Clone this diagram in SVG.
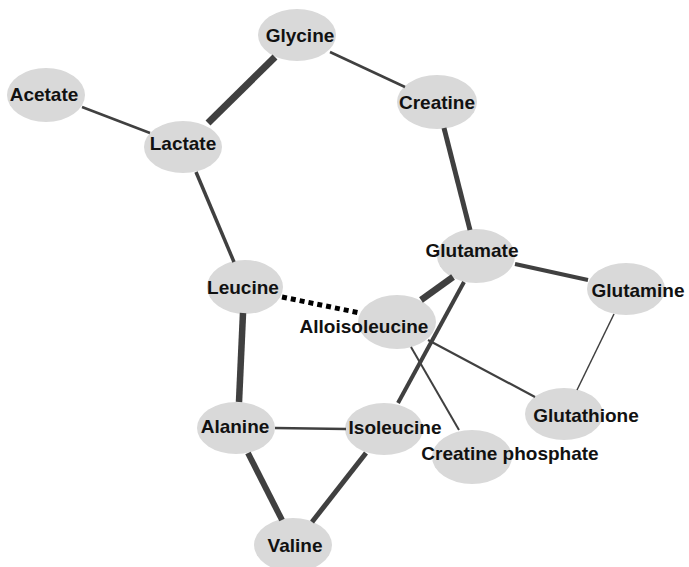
<svg xmlns="http://www.w3.org/2000/svg" width="689" height="567" viewBox="0 0 689 567">
<style>
.node ellipse{fill:#d9d9d9;stroke:none}
.node text{font-family:"Liberation Sans",Arial,sans-serif;font-weight:bold;font-size:19px;fill:#111;text-anchor:middle}
.edge{stroke:#404040;stroke-linecap:butt;fill:none}
.dot{stroke:#000;stroke-width:5;stroke-dasharray:5 4;fill:none}
</style>
<rect width="689" height="567" fill="#fff"/>
<g id="nodes">
<g id="glycine" class="node"><ellipse cx="297" cy="35" rx="39" ry="26"/><text x="300" y="42">Glycine</text></g>
<g id="acetate" class="node"><ellipse cx="46" cy="95" rx="39" ry="27"/><text x="44" y="101">Acetate</text></g>
<g id="lactate" class="node"><ellipse cx="183" cy="147" rx="39" ry="26"/><text x="183" y="150">Lactate</text></g>
<g id="creatine" class="node"><ellipse cx="437" cy="102" rx="40" ry="27"/><text x="437" y="109">Creatine</text></g>
<g id="glutamate" class="node"><ellipse cx="476" cy="256" rx="39" ry="27"/><text x="472" y="257">Glutamate</text></g>
<g id="glutamine" class="node"><ellipse cx="626" cy="289" rx="39" ry="26"/><text x="638" y="297">Glutamine</text></g>
<g id="leucine" class="node"><ellipse cx="245" cy="287" rx="38" ry="27"/><text x="243" y="294">Leucine</text></g>
<g id="alloisoleucine" class="node"><ellipse cx="397" cy="322" rx="39" ry="27"/><text x="364" y="333">Alloisoleucine</text></g>
<g id="glutathione" class="node"><ellipse cx="564" cy="414" rx="39" ry="26"/><text x="586" y="422">Glutathione</text></g>
<g id="alanine" class="node"><ellipse cx="236" cy="428" rx="39" ry="26"/><text x="235" y="433">Alanine</text></g>
<g id="isoleucine" class="node"><ellipse cx="384" cy="429" rx="39" ry="26"/><text x="395" y="434">Isoleucine</text></g>
<g id="creatine-phosphate" class="node"><ellipse cx="472" cy="457" rx="40" ry="27"/><text x="510" y="460">Creatine phosphate</text></g>
<g id="valine" class="node"><ellipse cx="293" cy="545" rx="39" ry="27"/><text x="295" y="552">Valine</text></g>
</g>
<g id="connectors">
<line class="edge" x1="82" y1="107" x2="150" y2="133" stroke-width="2.5"/>
<line class="edge" x1="208" y1="123" x2="275" y2="57" stroke-width="7"/>
<line class="edge" x1="196" y1="172" x2="234" y2="262" stroke-width="3.5"/>
<line class="edge" x1="330" y1="52" x2="405" y2="87" stroke-width="2.5"/>
<line class="edge" x1="444" y1="128" x2="470" y2="230" stroke-width="5"/>
<line class="edge" x1="515" y1="264" x2="588" y2="280" stroke-width="4"/>
<line class="edge" x1="453" y1="277" x2="421" y2="300" stroke-width="6.5"/>
<line class="edge" x1="464" y1="282" x2="398" y2="403" stroke-width="4"/>
<line class="edge" x1="614" y1="314" x2="577" y2="390" stroke-width="1.5"/>
<line class="edge" x1="428" y1="340" x2="535" y2="397" stroke-width="2.2"/>
<line class="edge" x1="411" y1="347" x2="459" y2="430" stroke-width="2"/>
<line class="dot" x1="282" y1="297" x2="360" y2="313"/>
<line class="edge" x1="243" y1="313" x2="239" y2="402" stroke-width="6.5"/>
<line class="edge" x1="275" y1="428" x2="346" y2="429" stroke-width="2.5"/>
<line class="edge" x1="248" y1="453" x2="282" y2="520" stroke-width="6"/>
<line class="edge" x1="366" y1="453" x2="312" y2="522" stroke-width="5"/>
</g>
</svg>
